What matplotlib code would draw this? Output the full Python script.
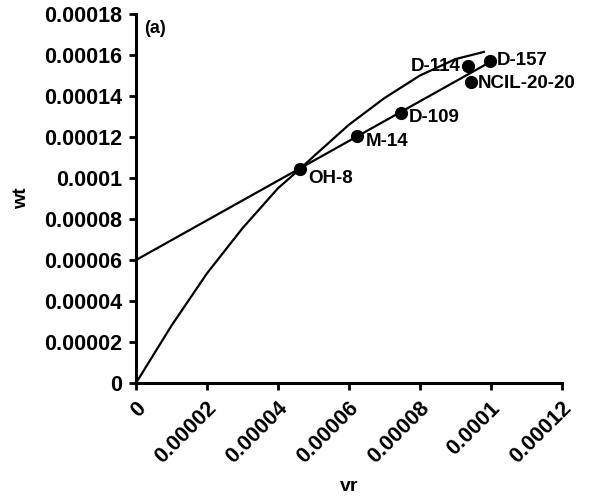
import matplotlib
matplotlib.use("Agg")
import matplotlib.pyplot as plt
from matplotlib.ticker import FixedLocator

# cultivar points (vr, wt)
names = ["OH-8", "M-14", "D-109", "D-114", "NCIL-20-20", "D-157"]
vr = [4.62e-5, 6.23e-5, 7.46e-5, 9.35e-5, 9.44e-5, 9.97e-5]
wt = [1.044e-4, 1.205e-4, 1.317e-4, 1.546e-4, 1.468e-4, 1.571e-4]

# straight regression line
line_x = [0.0, 9.97e-5]
line_y = [6.0e-5, 1.565e-4]

# curved line
curve_x = [0.0, 1.0e-5, 2.0e-5, 3.0e-5, 4.0e-5, 4.62e-5, 5.0e-5, 6.0e-5,
           7.0e-5, 8.0e-5, 9.0e-5, 9.8e-5]
curve_y = [0.0, 2.8e-5, 5.35e-5, 7.55e-5, 9.5e-5, 1.044e-4, 1.105e-4, 1.26e-4,
           1.39e-4, 1.50e-4, 1.58e-4, 1.615e-4]

x_ticks = [0, 0.00002, 0.00004, 0.00006, 0.00008, 0.0001, 0.00012]
x_labels = ["0", "0.00002", "0.00004", "0.00006", "0.00008", "0.0001", "0.00012"]
y_ticks = [0, 0.00002, 0.00004, 0.00006, 0.00008, 0.0001, 0.00012, 0.00014, 0.00016, 0.00018]
y_labels = ["0", "0.00002", "0.00004", "0.00006", "0.00008", "0.0001",
            "0.00012", "0.00014", "0.00016", "0.00018"]

# label offsets in points (dx, dy, ha)
offsets = {
    "OH-8": (6, -7, "left"),
    "M-14": (6, -4, "left"),
    "D-109": (6, -3, "left"),
    "D-114": (-5, 0, "right"),
    "NCIL-20-20": (5, -1, "left"),
    "D-157": (5, 0, "left"),
}

plt.rcParams["font.family"] = ["Liberation Sans", "DejaVu Sans"]
plt.rcParams["font.weight"] = "bold"

fig = plt.figure(figsize=(5.94, 5.0), dpi=100)
ax = fig.add_axes([0.229, 0.234, 0.717, 0.738])

ax.plot(curve_x, curve_y, color="black", linewidth=1.6)
ax.plot(line_x, line_y, color="black", linewidth=1.6)
ax.plot(vr, wt, "o", color="black", markersize=8.5)

for name, x, y in zip(names, vr, wt):
    dx, dy, ha = offsets[name]
    ax.annotate(name, (x, y), xytext=(dx, dy), textcoords="offset points",
                ha=ha, va="center", fontsize=13.5, fontweight="bold")

ax.text(0.02, 0.985, "(a)", transform=ax.transAxes, ha="left", va="top",
        fontsize=13, fontweight="bold")

ax.set_xlim(0, 0.00012)
ax.set_ylim(0, 0.00018)
ax.xaxis.set_major_locator(FixedLocator(x_ticks))
ax.yaxis.set_major_locator(FixedLocator(y_ticks))
ax.set_xticklabels([])
ax.set_yticklabels(y_labels)

# rotated x tick labels, end of the text sits just right of each tick
for t, lab in zip(x_ticks, x_labels):
    ax.annotate(lab, (t, 0), xycoords=("data", "axes fraction"),
                xytext=(4.5, -16), textcoords="offset points",
                rotation=45, ha="right", va="center", rotation_mode="anchor",
                fontsize=15.5, fontweight="bold", annotation_clip=False)

for side in ("top", "right"):
    ax.spines[side].set_visible(False)
for side in ("left", "bottom"):
    ax.spines[side].set_linewidth(2.2)
ax.tick_params(direction="out", length=5, width=2, labelsize=15.5)
ax.tick_params(axis="y", pad=5)

ax.set_ylabel("wt", fontsize=14, fontweight="bold", labelpad=10)
ax.text(0.5, -0.28, "vr", transform=ax.transAxes, ha="center", va="center",
        fontsize=14, fontweight="bold")

fig.savefig("out.png", dpi=100)
